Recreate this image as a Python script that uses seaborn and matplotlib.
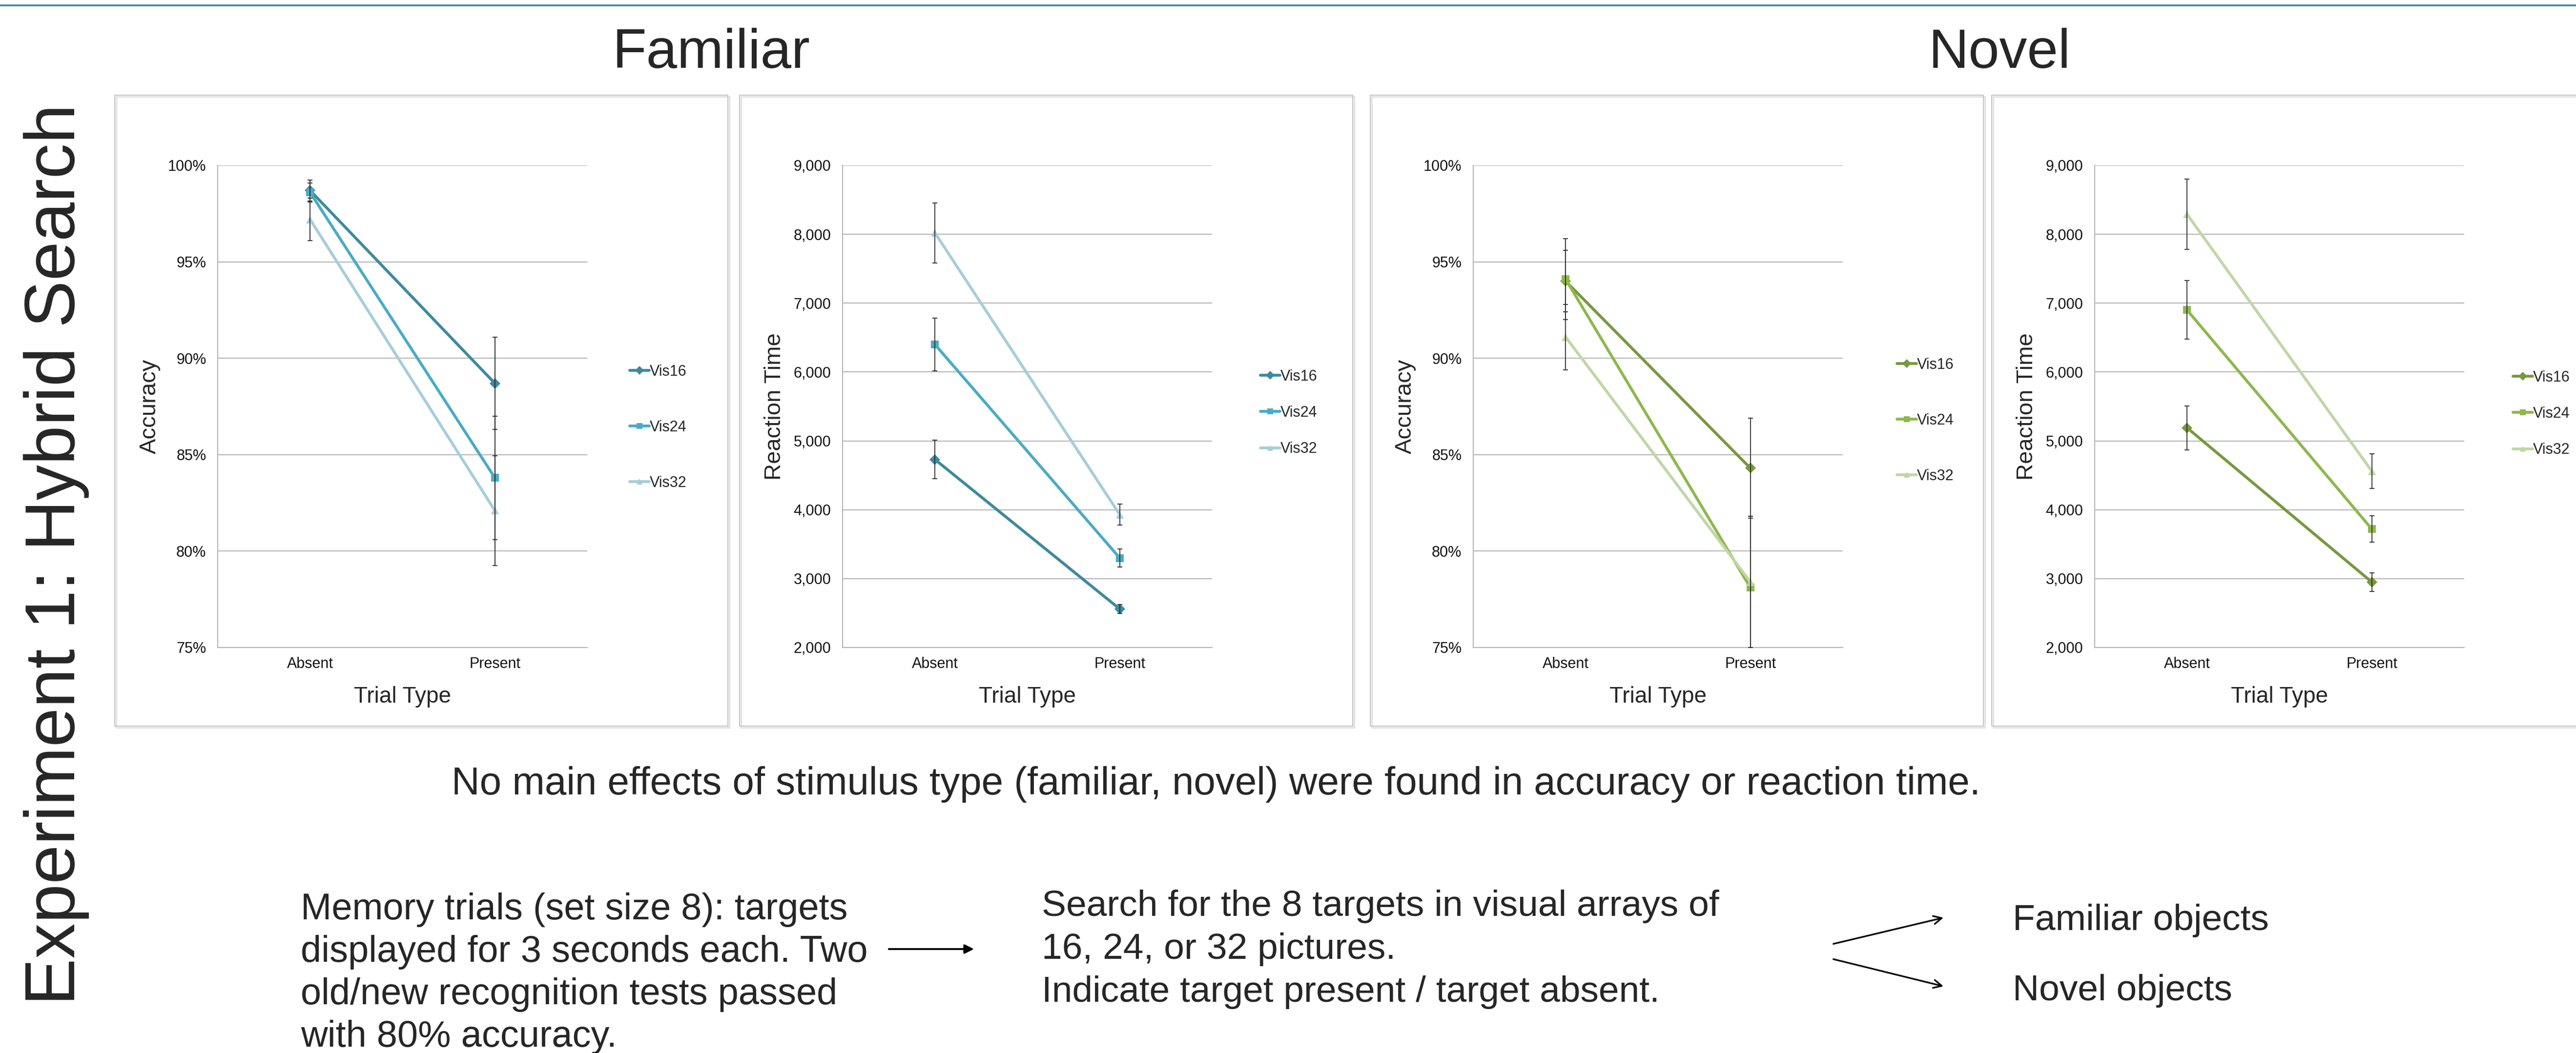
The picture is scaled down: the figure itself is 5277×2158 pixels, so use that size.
import matplotlib
matplotlib.use('Agg')
import matplotlib.pyplot as plt
import seaborn as sns
import pandas as pd
from matplotlib.patches import Rectangle, FancyArrowPatch
from matplotlib.ticker import FuncFormatter, MultipleLocator

# --- data ---
trial_types = ['Absent', 'Present']
set_sizes = ['Vis16', 'Vis24', 'Vis32']

# rows follow set_sizes, columns follow trial_types
fam_acc = [[98.7, 88.7], [98.6, 83.8], [97.2, 82.1]]
fam_acc_se = [[0.55, 2.4], [0.5, 3.2], [1.1, 2.85]]
fam_rt = [[4730, 2560], [6400, 3300], [8020, 3930]]
fam_rt_se = [[280, 65], [380, 130], [435, 150]]
nov_acc = [[94.0, 84.3], [94.1, 78.1], [91.1, 78.4]]
nov_acc_se = [[1.6, 2.6], [2.1, 3.7], [1.7, 3.4]]
nov_rt = [[5190, 2950], [6900, 3720], [8290, 4560]]
nov_rt_se = [[320, 135], [425, 190], [510, 250]]

teal = ['#3D8A9D', '#4AABC4', '#A6CDDB']
green = ['#77993F', '#8DB84D', '#C0D7A6']

memory_lines = ['Memory trials (set size 8): targets',
                'displayed for 3 seconds each. Two',
                'old/new recognition tests passed',
                'with 80% accuracy.']
search_lines = ['Search for the 8 targets in visual arrays of',
                '16, 24, or 32 pictures.',
                'Indicate target present / target absent.']

W, H = 5277, 2158
DPI = 100


def fx(px):
    return px / W


def fy(py):
    return 1 - py / H


sns.set_theme(style='white')
plt.rcParams['font.family'] = ['Liberation Sans', 'DejaVu Sans']

fig = plt.figure(figsize=(W / DPI, H / DPI), dpi=DPI)
fig.patch.set_facecolor('white')

# thin rule across the top of the slide
fig.add_artist(plt.Line2D([0, 1], [fy(10.5), fy(10.5)], transform=fig.transFigure,
                          color='#2F8AA2', lw=2.6))

pct_fmt = FuncFormatter(lambda v, p: '{:.0f}%'.format(v))
rt_fmt = FuncFormatter(lambda v, p: '{:,.0f}'.format(v))

panels = [
    # box left px, means, errors, palette, kind, legend y px, legend x px, label spacing
    (235, fam_acc, fam_acc_se, teal, 'acc', 876, 1290, 2.75),
    (1515, fam_rt, fam_rt_se, teal, 'rt', 846, 2582, 1.45),
    (2807, nov_acc, nov_acc_se, green, 'acc', 862, 3886, 2.75),
    (4080, nov_rt, nov_rt_se, green, 'rt', 848, 5148, 1.45),
]

markers = {'Vis16': 'D', 'Vis24': 's', 'Vis32': '^'}

for box_left, means, errs, pal, kind, leg_y, leg_x, lsp in panels:
    # panel frame with a faint shadow
    fig.add_artist(Rectangle((fx(box_left + 3), fy(1491)), 1256 / W, 1293 / H,
                             transform=fig.transFigure, fill=False,
                             ec='#E2E2E2', lw=2.5, zorder=0))
    fig.add_artist(Rectangle((fx(box_left), fy(1488)), 1256 / W, 1293 / H,
                             transform=fig.transFigure, fill=False,
                             ec='#C3C3C3', lw=1.4, zorder=0))

    ax = fig.add_axes([fx(box_left + 211), fy(1327), 757 / W, 988 / H])

    rows = []
    for i, s in enumerate(set_sizes):
        for j, t in enumerate(trial_types):
            rows.append({'Trial Type': t, 'Set': s, 'value': means[i][j]})
    df = pd.DataFrame(rows)

    sns.lineplot(data=df, x='Trial Type', y='value', hue='Set', style='Set',
                 markers=markers, dashes=False, palette=pal, lw=4.2,
                 markersize=11, markeredgewidth=0, sort=False, ax=ax, zorder=3)

    for i, s in enumerate(set_sizes):
        ax.errorbar([0, 1], means[i], yerr=errs[i], fmt='none', ecolor='#2A2A2A',
                    elinewidth=1.3, capsize=3.5, capthick=1.3, zorder=4)

    ax.set_xlim(-0.5, 1.5)
    if kind == 'acc':
        ax.set_ylim(75, 100)
        ax.yaxis.set_major_locator(MultipleLocator(5))
        ax.yaxis.set_major_formatter(pct_fmt)
        ax.set_ylabel('Accuracy', fontsize=34)
    else:
        ax.set_ylim(2000, 9000)
        ax.yaxis.set_major_locator(MultipleLocator(1000))
        ax.yaxis.set_major_formatter(rt_fmt)
        ax.set_ylabel('Reaction Time', fontsize=34)
    ax.set_xlabel('Trial Type', fontsize=33)

    ax.yaxis.grid(True, color='#B5B5B5', lw=1.5)
    ax.xaxis.grid(False)
    ax.set_axisbelow(True)
    for side in ['top', 'right']:
        ax.spines[side].set_visible(False)
    for side in ['left', 'bottom']:
        ax.spines[side].set_color('#B5B5B5')
        ax.spines[side].set_linewidth(1.5)
    ax.tick_params(axis='y', length=0, pad=17, labelsize=22, labelcolor='#111111')
    ax.tick_params(axis='x', length=0, pad=14, labelsize=22, labelcolor='#111111')

    ax.xaxis.set_label_coords(0.5, -0.114)
    ax.xaxis.label.set_va('baseline')
    ax.yaxis.set_label_coords(-0.168, 0.5)
    ax.yaxis.label.set_va('baseline')

    handles, labels = ax.get_legend_handles_labels()
    for h in handles:
        h.set_linewidth(4.2)
        h.set_markersize(9)
    ax.legend(handles, labels, loc='center left', bbox_to_anchor=(fx(leg_x), fy(leg_y)),
              bbox_transform=fig.transFigure, frameon=False, fontsize=22,
              handlelength=1.3, handletextpad=0.05, borderpad=0, borderaxespad=0,
              labelspacing=lsp)

# headings
fig.text(fx(1457), fy(139), 'Familiar', fontsize=82, ha='center', va='baseline')
fig.text(fx(4096), fy(139), 'Novel', fontsize=82, ha='center', va='baseline')
fig.text(fx(153), fy(1136), 'Experiment 1: Hybrid Search', fontsize=104, rotation=90,
         rotation_mode='anchor', ha='center', va='baseline')

# notes below the charts
fig.text(fx(925), fy(1628), 'No main effects of stimulus type (familiar, novel) were found '
         'in accuracy or reaction time.', fontsize=57.5, ha='left', va='baseline')

for k, line in enumerate(memory_lines):
    fig.text(fx(616), fy(1884 + 87 * k), line, fontsize=54.5, ha='left', va='baseline')

for k, line in enumerate(search_lines):
    fig.text(fx(2134), fy(1877 + 88 * k), line, fontsize=54, ha='left', va='baseline')

fig.text(fx(4123), fy(1906), 'Familiar objects', fontsize=54, ha='left', va='baseline')
fig.text(fx(4123), fy(2050), 'Novel objects', fontsize=54, ha='left', va='baseline')

# arrows between the steps
fig.add_artist(FancyArrowPatch((fx(1818), fy(1945)), (fx(1998), fy(1945)),
                               transform=fig.transFigure, arrowstyle='-|>',
                               mutation_scale=28, lw=2.8, color='black'))
fig.add_artist(FancyArrowPatch((fx(3753), fy(1935)), (fx(3984), fy(1880)),
                               transform=fig.transFigure, arrowstyle='->',
                               mutation_scale=30, lw=2.4, color='black'))
fig.add_artist(FancyArrowPatch((fx(3753), fy(1965)), (fx(3984), fy(2022)),
                               transform=fig.transFigure, arrowstyle='->',
                               mutation_scale=30, lw=2.4, color='black'))

fig.savefig('out.png', dpi=DPI, facecolor='white')
plt.close(fig)
